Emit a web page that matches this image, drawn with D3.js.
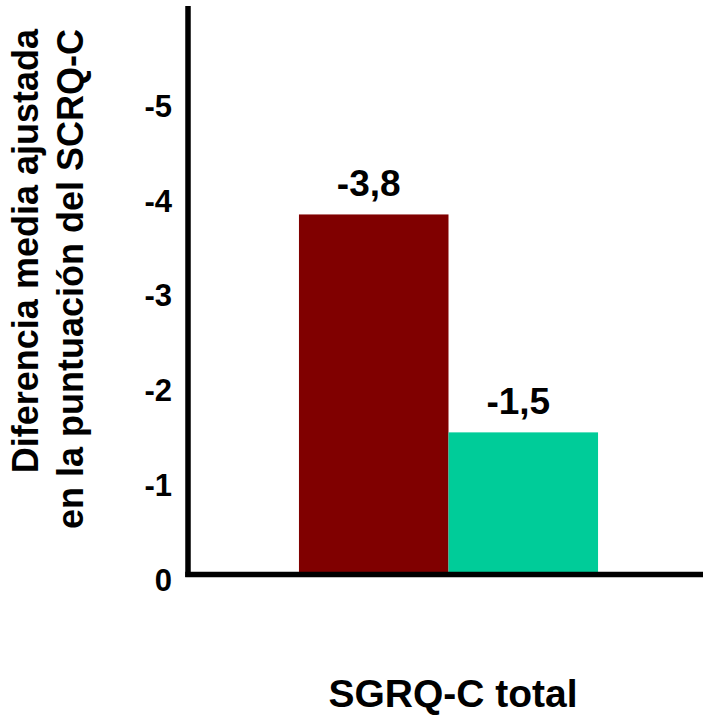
<!DOCTYPE html>
<html>
<head>
<meta charset="utf-8">
<script src="https://cdn.jsdelivr.net/npm/d3@7/dist/d3.min.js"></script>
<style>
  html, body { margin: 0; padding: 0; background: #fff; }
  svg { display: block; }
  text { font-family: Arial, "Liberation Sans", sans-serif; font-weight: bold; fill: #000; }
</style>
</head>
<body>
<script>
// Data
const categories = ["SGRQ-C total"];
const series = ["Grupo A", "Grupo B"];
const values = [-3.8, -1.5];
const valueLabels = ["-3,8", "-1,5"];
const colors = ["#800000", "#00CC99"];
const yTicks = [0, -1, -2, -3, -4, -5];
const yTickLabels = ["0", "-1", "-2", "-3", "-4", "-5"];
const yTitleLines = ["Diferencia media ajustada", "en la puntuación del SCRQ-C"];
const xTitle = "SGRQ-C total";

const W = 703, H = 716;
const svg = d3.select("body").append("svg").attr("width", W).attr("height", H);

const axisX = 188, axisY = 574.5;

// Negative values grow upward
const y = d3.scaleLinear().domain([0, -6]).range([axisY, 6]);

const x0 = d3.scaleBand().domain(categories).range([188, 709]).paddingOuter(0.371).paddingInner(0);
const x1 = d3.scaleBand().domain(series).range([0, x0.bandwidth()]);

// Bars with value labels
const g = svg.append("g");
categories.forEach(cat => {
  series.forEach((s, i) => {
    g.append("rect")
      .attr("x", x0(cat) + x1(s))
      .attr("width", x1.bandwidth())
      .attr("y", y(values[i]))
      .attr("height", y(0) - y(values[i]))
      .attr("fill", colors[i]);
    g.append("text")
      .attr("x", x0(cat) + x1(s) + x1.bandwidth() / 2 - 5)
      .attr("y", y(values[i]) - 18)
      .attr("text-anchor", "middle")
      .attr("font-size", 37)
      .text(valueLabels[i]);
  });
});

// Y axis
const yAxis = d3.axisLeft(y).tickValues(yTicks).tickSize(0).tickPadding(16)
  .tickFormat((d, i) => yTickLabels[i]);
const ya = svg.append("g").attr("transform", `translate(${axisX},0)`).call(yAxis);
ya.select(".domain").remove();
ya.attr("font-size", 31).attr("font-family", null);
ya.selectAll("text")
  .attr("font-size", 31)
  .attr("fill", "#000")
  .attr("dy", "0.5em");
svg.append("line")
  .attr("x1", axisX).attr("x2", axisX)
  .attr("y1", y(-6)).attr("y2", axisY + 2.5)
  .attr("stroke", "#000").attr("stroke-width", 5.5);

// X axis baseline
svg.append("line")
  .attr("x1", axisX - 2.75).attr("x2", W)
  .attr("y1", axisY).attr("y2", axisY)
  .attr("stroke", "#000").attr("stroke-width", 5.5);

// Titles
const yt = svg.append("text")
  .attr("transform", "translate(38,29) rotate(-90)")
  .attr("text-anchor", "end")
  .attr("font-size", 36);
yt.append("tspan").attr("x", 0).attr("y", 0).text(yTitleLines[0]);
yt.append("tspan").attr("x", 0).attr("y", 45).text(yTitleLines[1]);

svg.append("text")
  .attr("x", 453)
  .attr("y", 707)
  .attr("text-anchor", "middle")
  .attr("font-size", 39)
  .text(xTitle);
</script>
</body>
</html>
